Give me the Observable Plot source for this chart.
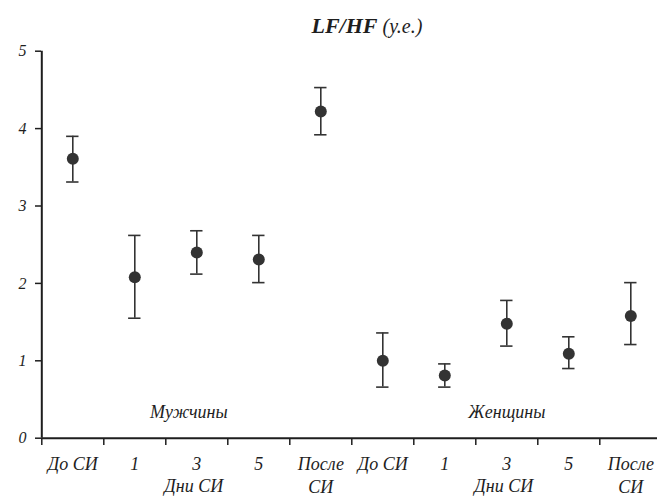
<!DOCTYPE html>
<html>
<head>
<meta charset="utf-8">
<script src="https://cdn.jsdelivr.net/npm/d3@7"></script>
<script src="https://cdn.jsdelivr.net/npm/@observablehq/plot@0.6"></script>
<style>
  html, body { margin: 0; padding: 0; background: #fff; overflow: hidden; }
  #chart svg { display: block; }
  #chart svg text { font-family: "Liberation Serif", "Times New Roman", serif; }
</style>
</head>
<body>
<div id="chart"></div>
<script>
// LF/HF ratio (conventional units), mean with error range, by stage of the study
const stageLabels = ["До СИ", "1", "3", "5", "После\nСИ", "До СИ", "1", "3", "5", "После\nСИ"];
const groupNames = ["Мужчины", "Женщины"];
const meanValues = [3.61, 2.08, 2.40, 2.31, 4.22, 1.00, 0.81, 1.48, 1.09, 1.58];
const lowerValues = [3.31, 1.55, 2.12, 2.01, 3.92, 0.66, 0.66, 1.19, 0.90, 1.21];
const upperValues = [3.90, 2.62, 2.68, 2.62, 4.53, 1.36, 0.96, 1.78, 1.31, 2.01];
const yTicks = [0, 1, 2, 3, 4, 5];
const daysLabel = "Дни СИ";
const titleMain = "LF/HF";
const titleUnit = "(у.е.)";

const rows = stageLabels.map((label, i) => ({
  i,
  label,
  group: groupNames[Math.floor(i / 5)],
  mean: meanValues[i],
  lower: lowerValues[i],
  upper: upperValues[i]
}));
// boundaries between stage slots carry the x-axis tick marks
const boundaries = d3.range(-0.5, stageLabels.length - 1, 1);
const groupCenters = [2, 7];

const serif = "'Liberation Serif', 'Times New Roman', serif";
const ink = "#1e1e1e";
const capHalf = 0.1;

const chart = Plot.plot({
  width: 657,
  height: 498,
  marginLeft: 41,
  marginRight: 0,
  marginTop: 51,
  marginBottom: 60,
  style: { color: ink, background: "#fff" },
  x: { type: "linear", domain: [-0.5, 9.5], range: [41.3, 661.3] },
  y: { domain: [0, 5], range: [437.7, 50.7] },
  marks: [
    // axes
    Plot.axisY({
      ticks: yTicks, tickSize: 6, tickPadding: 9, tickFormat: d => String(d),
      label: null, fontSize: 16, fontStyle: "italic", fontFamily: serif, strokeWidth: 1.5
    }),
    Plot.axisX({
      ticks: boundaries, tickSize: 7, tickFormat: () => "", label: null, strokeWidth: 1.5
    }),
    Plot.ruleX([-0.5], { y1: 0, y2: 5, stroke: ink, strokeWidth: 2 }),
    Plot.ruleY([0], { x1: -0.5, x2: 9.5, stroke: ink, strokeWidth: 2 }),

    // stage labels under the axis
    Plot.text(rows, {
      x: "i", y: () => 0, text: "label", lineAnchor: "top", dy: 15,
      fontSize: 18, fontStyle: "italic", fontFamily: serif, lineHeight: 1.28, fill: ink
    }),
    Plot.text(groupCenters, {
      x: d => d, y: () => 0, text: () => daysLabel, lineAnchor: "top", dy: 41, dx: -3,
      fontSize: 18, fontStyle: "italic", fontFamily: serif, fill: ink
    }),
    // group names inside the plot
    Plot.text([groupCenters[0]], {
      x: d => d, y: () => 0, text: () => groupNames[0], lineAnchor: "bottom", dy: -20, dx: -8,
      fontSize: 18, fontStyle: "italic", fontFamily: serif, fill: ink
    }),
    Plot.text([groupCenters[1]], {
      x: d => d, y: () => 0, text: () => groupNames[1], lineAnchor: "bottom", dy: -20,
      fontSize: 18, fontStyle: "italic", fontFamily: serif, fill: ink
    }),

    // error bars with caps
    Plot.ruleX(rows, { x: "i", y1: "lower", y2: "upper", stroke: "#333", strokeWidth: 1.6 }),
    Plot.ruleY(rows, { y: "upper", x1: d => d.i - capHalf, x2: d => d.i + capHalf, stroke: "#333", strokeWidth: 1.6 }),
    Plot.ruleY(rows, { y: "lower", x1: d => d.i - capHalf, x2: d => d.i + capHalf, stroke: "#333", strokeWidth: 1.6 }),
    Plot.dot(rows, { x: "i", y: "mean", r: 6, fill: "#333", stroke: "none" }),

    // title
    Plot.text([titleMain], {
      frameAnchor: "top", text: d => d, textAnchor: "end", lineAnchor: "bottom",
      dx: 28, dy: -19, fontSize: 22, fontStyle: "italic", fontWeight: "bold", fontFamily: serif, fill: ink
    }),
    Plot.text([titleUnit], {
      frameAnchor: "top", text: d => d, textAnchor: "start", lineAnchor: "bottom",
      dx: 33, dy: -19, fontSize: 20, fontStyle: "italic", fontFamily: serif, fill: ink
    })
  ]
});

document.getElementById("chart").appendChild(chart);
</script>
</body>
</html>
